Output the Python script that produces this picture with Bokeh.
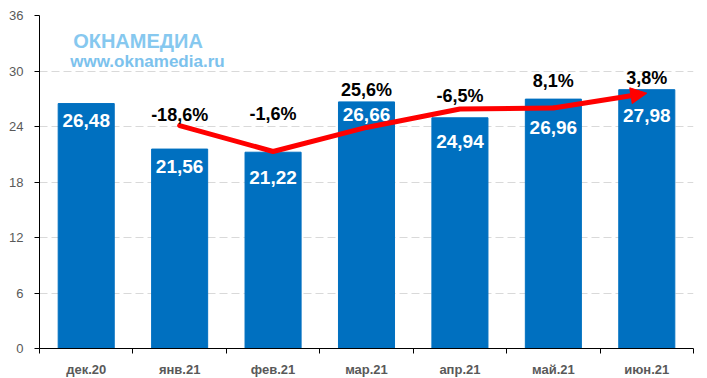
from bokeh.plotting import figure
from bokeh.models import (Range1d, FixedTicker, ColumnDataSource, Arrow, NormalHead, Label)
from bokeh.core.properties import value
from bokeh.embed import file_html
from bokeh.resources import INLINE

# ---- data ----
months = ["дек.20", "янв.21", "фев.21", "мар.21", "апр.21", "май.21", "июн.21"]
prices = [26.48, 21.56, 21.22, 26.66, 24.94, 26.96, 27.98]
price_labels = ["26,48", "21,56", "21,22", "26,66", "24,94", "26,96", "27,98"]
price_label_y = [24.6, 19.7, 18.45, 25.3, 22.4, 23.9, 25.2]
trend = [24.1, 21.3, 23.9, 25.9, 26.0, 27.6]          # red line, янв..июн
changes = ["-18,6%", "-1,6%", "25,6%", "-6,5%", "8,1%", "3,8%"]
change_y = [25.2, 25.4, 28.0, 27.35, 28.9, 29.2]
y_ticks = [0, 6, 12, 18, 24, 30, 36]

FONT = "Liberation Sans"
xs = list(range(len(months)))

p = figure(frame_width=654, frame_height=333, output_backend="svg", toolbar_location=None,
           x_range=Range1d(-0.5, len(months) - 0.5), y_range=Range1d(0, 36),
           min_border_left=39, min_border_right=6, min_border_top=15, min_border_bottom=22)
p.outline_line_color = None
p.background_fill_color = "white"
p.border_fill_color = "white"

# bars
bars = ColumnDataSource(dict(x=xs, top=prices, lab=price_labels, ly=price_label_y))
p.vbar(x="x", top="top", width=0.6, source=bars, color="#0070C0")
p.text(x="x", y="ly", text="lab", source=bars, text_color="white",
       text_font=value(FONT), text_font_style="bold", text_font_size="19px",
       text_align="center", text_baseline="middle")

# trend line with arrow
tx = xs[1:]
p.line(x=tx[:-1], y=trend[:-1], line_color="#FF0000", line_width=5, line_join="round", line_cap="round")
asrc = ColumnDataSource(dict(x0=[tx[-2]], y0=[trend[-2]], x1=[tx[-1]], y1=[trend[-1]]))
p.add_layout(Arrow(end=NormalHead(size=16, fill_color="#FF0000", line_color="#FF0000"),
                   x_start="x0", y_start="y0", x_end="x1", y_end="y1", source=asrc,
                   line_color="#FF0000", line_width=5))

# change labels
csrc = ColumnDataSource(dict(x=tx, y=change_y, t=changes))
p.text(x="x", y="y", text="t", source=csrc, text_color="black",
       text_font=value(FONT), text_font_style="bold", text_font_size="18px",
       text_align="center", text_baseline="middle")

# logo
p.add_layout(Label(x=-0.14, y=33.2, text="ОКНАМЕДИА", text_font=FONT, text_font_style="bold",
                   text_font_size="20px", text_color="#86C8EF", text_baseline="alphabetic"))
p.add_layout(Label(x=-0.17, y=31.0, text="www.oknamedia.ru", text_font=FONT, text_font_style="bold",
                   text_font_size="17px", text_color="#7CC2ED", text_baseline="alphabetic"))

# axes
p.xaxis.ticker = FixedTicker(ticks=xs, minor_ticks=[i - 0.5 for i in range(len(months) + 1)])
p.xaxis.major_label_overrides = {i: m for i, m in enumerate(months)}
p.xaxis.major_tick_out = 0
p.xaxis.major_tick_in = 0
p.xaxis.minor_tick_out = 5
p.xaxis.minor_tick_in = 0
p.xaxis.major_label_standoff = 8
p.xaxis.major_label_text_font = FONT
p.xaxis.major_label_text_font_style = "bold"
p.xaxis.major_label_text_font_size = "13px"
p.xaxis.major_label_text_color = "#595959"
p.xaxis.axis_line_color = "black"

p.yaxis.ticker = FixedTicker(ticks=y_ticks)
p.yaxis.major_tick_out = 5
p.yaxis.major_tick_in = 0
p.yaxis.minor_tick_line_color = None
p.yaxis.major_label_standoff = 11
p.yaxis.major_label_text_font = FONT
p.yaxis.major_label_text_font_size = "13px"
p.yaxis.major_label_text_color = "#595959"
p.yaxis.axis_line_color = "black"

p.xgrid.grid_line_color = None
p.ygrid.grid_line_color = "#D9D9D9"
p.ygrid.grid_line_dash = "8 4"

open("out.html", "w").write(file_html(p, INLINE))
